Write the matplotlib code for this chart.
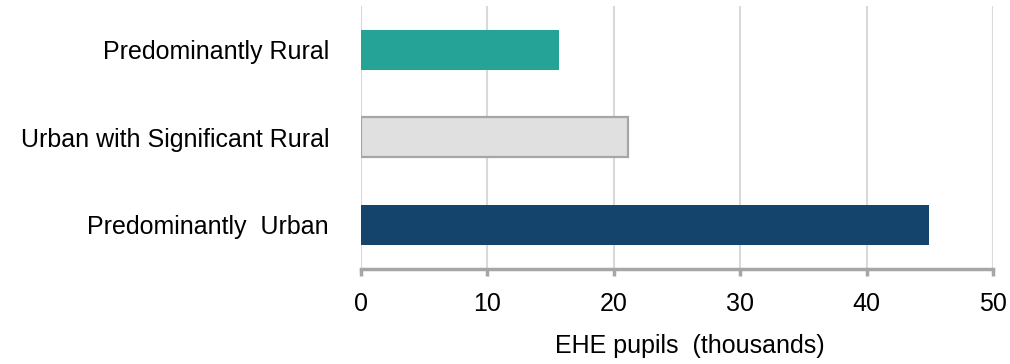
import matplotlib
matplotlib.use("Agg")
import matplotlib.pyplot as plt

# Elective home education pupils by rural-urban classification (thousands)
categories = ["Predominantly  Urban", "Urban with Significant Rural", "Predominantly Rural"]
values = [44.9, 21.1, 15.7]
fill_colors = ["#14446B", "#E0E0E0", "#26A397"]
edge_colors = ["#14446B", "#A6A6A6", "#26A397"]
x_ticks = [0, 10, 20, 30, 40, 50]

plt.rcParams["font.family"] = ["Liberation Sans", "DejaVu Sans"]

W, H = 1010, 364
fig = plt.figure(figsize=(W / 100, H / 100), dpi=100)
left, right, bottom, top = 361, 993, 268.5, 6
ax = fig.add_axes([left / W, 1 - bottom / H, (right - left) / W, (bottom - top) / H])

y = range(len(categories))
ax.barh(y, values, height=0.46, color=fill_colors, edgecolor=edge_colors,
        linewidth=[0, 1.6, 0], zorder=3)

ax.set_xlim(0, 50)
ax.set_ylim(-0.5, 2.5)
ax.set_xticks(x_ticks)
ax.set_xticklabels([str(t) for t in x_ticks])
ax.set_yticks(list(y))
ax.set_yticklabels(categories)

ax.xaxis.grid(True, color="#D9D9D9", linewidth=1.5, zorder=0)
ax.set_axisbelow(True)

for side in ["top", "right", "left"]:
    ax.spines[side].set_visible(False)
ax.spines["bottom"].set_color("#A6A6A6")
ax.spines["bottom"].set_linewidth(2.5)
ax.spines["bottom"].set_zorder(4)

ax.tick_params(axis="x", length=5, width=2.5, color="#A6A6A6", pad=12,
               labelsize=18, labelcolor="#000000")
ax.tick_params(axis="y", length=0, pad=23, labelsize=18, labelcolor="#000000")

ax.set_xlabel("EHE pupils  (thousands)", fontsize=18)
ax.xaxis.set_label_coords(0.52, -0.25)

fig.savefig("out.png", dpi=100)
